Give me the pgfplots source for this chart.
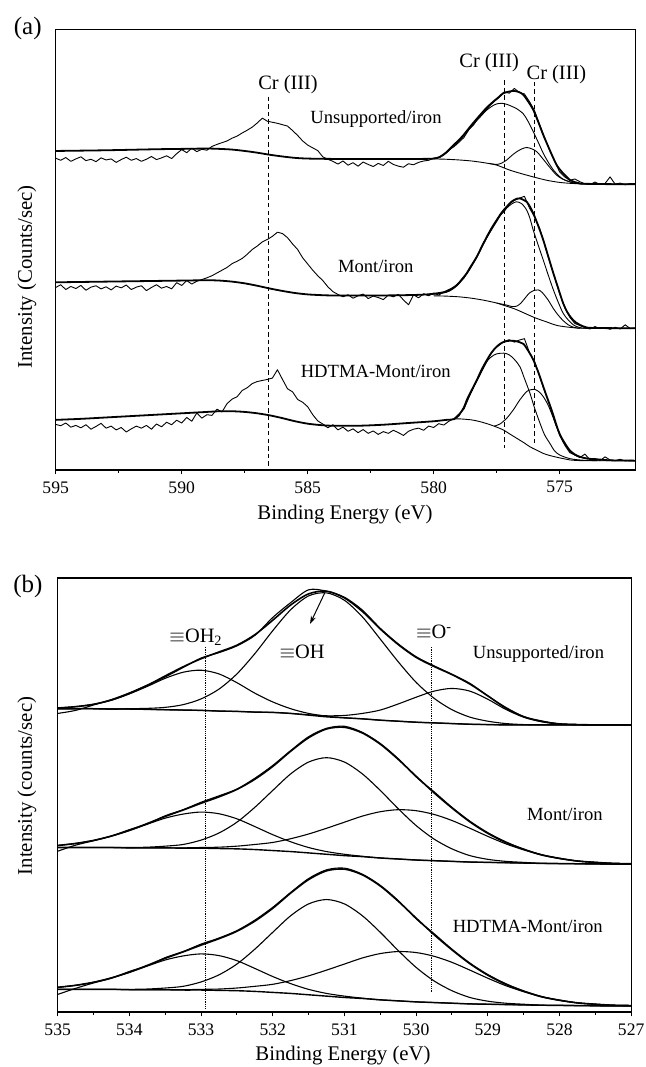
\documentclass[border=0pt]{standalone}
\usepackage{fontspec}
\setmainfont{Liberation Serif}
\usepackage{pgfplots}
\usepackage{pgfplotstable}
\pgfplotsset{compat=1.18}
\usetikzlibrary{arrows.meta}

\newcommand\tickfont{\fontsize{8.8}{10}\selectfont}
\newcommand\axlabfont{\fontsize{10.4}{12}\selectfont}
\newcommand\samplefont{\fontsize{9.3}{11}\selectfont}
\newcommand\peakfont{\fontsize{10.2}{12}\selectfont}
\newcommand\panelfont{\fontsize{12.5}{14}\selectfont}

\pgfplotsset{
  xps/.style={scale only axis, x dir=reverse, ytick=\empty, xtick pos=bottom,
    tick align=outside, major tick length=2.2pt, minor tick length=1.3pt,
    minor x tick num=1, axis line style={line width=0.6pt},
    every tick/.append style={line width=0.5pt, black},
    xticklabel style={font=\tickfont},
    /pgf/number format/assume math mode=true},
  raw/.style={black, line width=0.45pt, line join=round, mark=none},
  fit/.style={black, line width=0.9pt, smooth, mark=none},
  comp/.style={black, line width=0.45pt, smooth, mark=none},
  compb/.style={black, line width=0.55pt, smooth, mark=none},
  bk/.style={black, line width=0.7pt, smooth, mark=none},
}

% O 1s fits: background, OH2, OH, O- components, envelope, measured
\pgfplotstableread{
x bkg oht oh om env raw
535 898 900 898 898 900 884
534.75 898 904 898 898 904 893
534.5 898 911 898 898 911 909
534.25 897 923 897 897 924 925
534 897 942 898 897 943 945
533.75 896 964 899 896 967 968
533.5 895 988 902 895 995 992
533.25 894 1006 910 894 1022 1020
533 893 1012 927 893 1046 1048
532.75 891 1001 956 891 1066 1064
532.5 890 975 1001 890 1086 1084
532.25 888 944 1061 888 1117 1115
532 887 918 1129 887 1160 1168
531.75 884 898 1191 884 1205 1212
531.5 879 884 1232 880 1238 1250
531.25 874 876 1241 877 1246 1246
531 871 871 1219 878 1226 1228
530.75 868 868 1170 884 1186 1190
530.5 864 864 1104 894 1134 1136
530.25 861 861 1037 912 1088 1090
530 858 858 976 932 1050 1052
529.75 856 856 929 950 1023 1025
529.5 854 854 895 958 999 1000
529.25 852 852 873 950 971 973
529 851 851 861 926 936 936
528.75 850 850 854 896 900 902
528.5 850 850 851 873 874 875
528.25 850 850 850 860 860 862
528 850 850 850 853 853 853
527.75 850 850 850 851 851 851
527.5 850 850 850 850 850 850
527.25 850 850 850 850 850 850
527 850 850 850 850 850 850
}\oUns

\pgfplotstableread{
x bkg oht oh om env raw
535 487 493 487 487 493 476
534.75 487 499 487 487 499 494
534.5 487 508 487 487 508 507
534.25 487 521 487 487 521 521
534 486 537 487 486 538 540
533.75 486 556 488 486 558 557
533.5 486 574 491 486 579 581
533.25 485 586 496 486 598 599
533 485 592 509 487 618 621
532.75 484 587 530 488 637 640
532.5 483 572 562 491 659 660
532.25 481 549 606 496 689 692
532 478 525 656 502 727 730
531.75 475 504 705 513 772 774
531.5 471 487 740 527 812 815
531.25 467 475 753 544 838 840
531 463 467 740 562 843 846
530.75 460 461 705 580 826 828
530.5 456 456 656 593 793 795
530.25 453 453 602 599 748 750
530 450 450 552 596 698 696
529.75 448 448 512 585 649 652
529.5 446 446 483 567 604 606
529.25 444 444 463 544 563 565
529 443 443 452 520 529 531
528.75 442 442 446 498 502 504
528.5 441 441 443 480 482 482
528.25 440 440 440 465 465 466
528 439.5 439.5 439.5 454 455 455
527.75 439 439 439 447 447 447
527.5 438.5 438.5 438.5 443 443 443
527.25 438 438 438 440 440 440
527 438 438 438 439 439 439
}\oMont

\pgfplotstableread{
x bkg oht oh om env raw
535 67 73 67 67 73 52
534.75 67 79 67 67 79 70
534.5 67 88 67 67 88 86
534.25 67 101 67 67 101 100
534 66 117 67 66 118 120
533.75 66 136 68 66 138 137
533.5 66 154 71 66 159 161
533.25 65 166 76 66 178 179
533 65 172 89 67 198 201
532.75 64 167 110 68 217 219
532.5 63 152 142 71 239 241
532.25 61 129 186 76 269 272
532 58 105 236 82 307 310
531.75 55 84 285 93 352 354
531.5 51 67 320 107 392 395
531.25 47 55 333 124 418 421
531 43 47 320 142 423 426
530.75 40 41 285 160 406 408
530.5 36 36 236 173 373 375
530.25 33 33 182 179 328 330
530 30 30 132 176 278 276
529.75 28 28 92 165 229 232
529.5 26 26 63 147 184 186
529.25 24 24 43 124 143 145
529 23 23 32 100 109 111
528.75 22 22 26 78 82 84
528.5 21 21 23 60 62 62
528.25 20 20 20 45 45 46
528 19.5 19.5 19.5 34 35 35
527.75 19 19 19 27 27 27
527.5 18.5 18.5 18.5 23 23 23
527.25 18 18 18 20 20 20
527 18 18 18 19 19 19
}\oHDTMA

\begin{document}
\begin{tikzpicture}
\useasboundingbox (0,0) rectangle (323pt,533.5pt);

% ---------------- (a) Cr 2p ----------------
\begin{axis}[xps, at={(27.85pt,298.5pt)}, anchor=south west,
  width=289.8pt, height=220.35pt,
  xmin=572, xmax=595, ymin=0, ymax=1275,
  xtick={575,580,585,590,595}]

% Unsupported/iron
\addplot[raw] coordinates {(595.0,902)(594.8,896)(594.6,904)(594.4,893)(594.2,900)(594.0,906)(593.8,895)(593.6,899)(593.4,892)(593.2,903)(593.0,897)(592.8,900)(592.6,890)(592.4,898)(592.2,905)(592.0,896)(591.8,901)(591.6,893)(591.4,899)(591.2,907)(591.0,898)(590.8,903)(590.6,909)(590.4,901)(590.2,915)(590.0,927)(589.8,918)(589.6,931)(589.4,921)(589.2,928)(589.0,925)(588.8,936)(588.6,942)(588.4,947)(588.2,952)(588.0,960)(587.8,966)(587.6,975)(587.4,983)(587.2,992)(587.0,1004)(586.8,1018)(586.6,1009)(586.4,1006)(586.2,1003)(586.0,999)(585.8,995)(585.6,982)(585.4,968)(585.2,952)(585.0,940)(584.8,932)(584.6,924)(584.4,906)(584.2,899)(584.0,893)(583.8,885)(583.6,894)(583.4,882)(583.2,889)(583.0,879)(582.8,891)(582.6,884)(582.4,878)(582.2,887)(582.0,881)(581.8,893)(581.6,884)(581.4,879)(581.2,876)(581.0,886)(580.8,883)(580.6,890)(580.4,894)(580.2,896)(580.0,902)(579.8,905)(579.6,913)(579.4,926)(579.2,935)(579.0,948)(578.8,962)(578.6,985)(578.4,1000)(578.2,1022)(578.0,1035)(577.8,1052)(577.6,1066)(577.4,1078)(577.2,1094)(577.0,1090)(576.8,1104)(576.6,1092)(576.4,1088)(576.2,1066)(576.0,1040)(575.8,1000)(575.6,962)(575.4,925)(575.2,893)(575.0,862)(574.8,848)(574.6,838)(574.4,842)(574.2,834)(574.0,828)(573.8,826)(573.6,833)(573.4,826)(573.2,829)(573.0,848)(572.8,827)(572.6,830)(572.4,825)(572.2,829)(572.0,827)};
\addplot[fit] coordinates {(595,923)(593,925)(591,928)(590,929)(589,930)(588.5,929)(588,927)(587.5,923)(587,918)(586.5,912)(586,907)(585.5,903)(585,901)(584,900)(582,900)(580.5,900)(580.0,901)(579.75,906)(579.5,919)(579.25,937)(579.0,955)(578.83,968)(578.5,998)(578.16,1027)(577.9,1048)(577.63,1066)(577.4,1080)(577.24,1090)(577.0,1095)(576.84,1097)(576.6,1093)(576.44,1085)(576.25,1066)(576.05,1042)(575.85,1007)(575.65,969)(575.45,935)(575.25,902)(575.1,880)(574.92,863)(574.75,850)(574.59,839)(574.4,833)(574.19,829)(574.0,828)(573.0,827)(572.0,827)};
\addplot[comp] coordinates {(580.5,900)(580.0,901)(579.75,905)(579.5,917)(579.25,935)(579.0,952)(578.83,965)(578.5,994)(578.16,1021)(577.9,1041)(577.63,1055)(577.45,1060)(577.3,1061)(577.1,1058)(576.9,1052)(576.7,1045)(576.44,1030)(576.25,1008)(576.05,979)(575.85,948)(575.65,916)(575.45,890)(575.25,868)(575.05,852)(574.86,841)(574.66,835)(574.46,831)(574.2,828)(573.8,827)};
\addplot[comp] coordinates {(577.8,887)(577.5,884)(577.3,888)(577.1,897)(576.9,910)(576.7,921)(576.5,929)(576.31,933)(576.1,929)(575.91,921)(575.72,905)(575.52,887)(575.32,869)(575.12,853)(574.92,843)(574.72,837)(574.5,831)(574.33,829)(574.0,828)};
\addplot[comp] coordinates {(580.0,900)(579.5,899)(579.0,897)(578.5,894)(578.0,889)(577.5,882)(577.0,868)(576.5,857)(576.0,847)(575.5,838)(575.0,832)(574.5,829)(574.0,828)(573.0,827)(572.0,827)};

% Mont/iron
\addplot[raw] coordinates {(595.0,528)(594.8,536)(594.6,522)(594.4,531)(594.2,525)(594.0,534)(593.8,520)(593.6,529)(593.4,533)(593.2,524)(593.0,530)(592.8,521)(592.6,532)(592.4,527)(592.2,535)(592.0,522)(591.8,529)(591.6,533)(591.4,519)(591.2,528)(591.0,536)(590.8,526)(590.6,531)(590.4,524)(590.2,542)(590.0,534)(589.8,548)(589.6,538)(589.4,546)(589.2,551)(589.0,556)(588.8,562)(588.6,570)(588.4,578)(588.2,586)(588.0,597)(587.8,604)(587.6,612)(587.4,624)(587.2,638)(587.0,648)(586.8,660)(586.6,667)(586.4,676)(586.2,688)(586.0,684)(585.8,672)(585.6,654)(585.4,638)(585.2,614)(585.0,596)(584.8,578)(584.6,562)(584.4,548)(584.2,530)(584.0,516)(583.8,508)(583.6,501)(583.4,507)(583.2,497)(583.0,504)(582.8,509)(582.6,496)(582.4,503)(582.2,499)(582.0,493)(581.8,506)(581.6,501)(581.4,508)(581.2,492)(581.0,478)(580.8,507)(580.6,498)(580.4,510)(580.2,504)(580.0,512)(579.8,506)(579.6,515)(579.4,522)(579.2,527)(579.0,542)(578.8,555)(578.6,582)(578.4,603)(578.2,630)(578.0,660)(577.8,684)(577.6,712)(577.4,735)(577.2,748)(577.0,770)(576.8,780)(576.6,786)(576.4,792)(576.2,758)(576.0,733)(575.8,700)(575.6,652)(575.4,603)(575.2,556)(575.0,510)(574.8,470)(574.6,442)(574.4,424)(574.2,418)(574.0,412)(573.8,408)(573.6,415)(573.4,409)(573.2,412)(573.0,407)(572.8,413)(572.6,408)(572.4,420)(572.2,409)(572.0,411)};
\addplot[fit] coordinates {(595,543)(593,545)(591,547)(590,548)(589,549)(588.5,548)(588,545)(587.5,540)(587,533)(586.5,525)(586,518)(585.5,512)(585,508)(584.5,506)(584,505)(582,505)(581,506)(580.5,507)(580.27,508)(579.88,511)(579.48,517)(579.08,535)(578.9,550)(578.69,569)(578.5,592)(578.29,617)(578.1,645)(577.89,675)(577.7,700)(577.5,723)(577.3,745)(577.1,762)(576.9,777)(576.7,785)(576.58,786)(576.45,782)(576.31,776)(576.18,762)(576.05,743)(575.85,706)(575.65,665)(575.45,617)(575.25,569)(575.05,524)(574.86,482)(574.7,457)(574.53,439)(574.36,427)(574.2,420)(574.0,414)(573.7,411)(572.0,410)};
\addplot[comp] coordinates {(580.3,507)(579.5,514)(579.08,533)(578.69,567)(578.29,615)(577.89,672)(577.5,719)(577.3,742)(577.1,758)(576.9,770)(576.71,776)(576.5,770)(576.31,752)(576.18,728)(576.05,694)(575.85,650)(575.65,607)(575.45,563)(575.25,521)(575.05,484)(574.86,453)(574.66,434)(574.46,420)(574.25,413)(574.0,410)(573.5,410)};
\addplot[comp] coordinates {(577.5,483)(577.1,477)(576.9,473)(576.71,474)(576.55,482)(576.4,495)(576.2,512)(576.0,520)(575.85,521)(575.7,514)(575.46,492)(575.26,468)(575.06,448)(574.86,432)(574.66,420)(574.45,413)(574.2,410)};
\addplot[comp] coordinates {(580.0,504)(579.5,503)(579.0,501)(578.5,497)(578.0,491)(577.5,483)(577.2,476)(576.75,465)(576.0,441)(575.5,428)(575.1,418)(574.5,412)(574.0,410)(572.0,410)};

% HDTMA-Mont/iron
\addplot[raw] coordinates {(595.0,132)(594.8,128)(594.6,136)(594.4,124)(594.2,129)(594.0,122)(593.8,131)(593.6,118)(593.4,126)(593.2,135)(593.0,121)(592.8,127)(592.6,116)(592.4,123)(592.2,110)(592.0,119)(591.8,127)(591.6,121)(591.4,129)(591.2,118)(591.0,133)(590.8,125)(590.6,138)(590.4,131)(590.2,144)(590.0,136)(589.8,152)(589.6,141)(589.4,165)(589.2,150)(589.0,160)(588.8,158)(588.6,176)(588.4,168)(588.2,192)(588.0,205)(587.8,212)(587.6,230)(587.4,238)(587.2,250)(587.0,256)(586.8,259)(586.6,262)(586.4,266)(586.2,290)(586.0,262)(585.8,235)(585.6,226)(585.4,204)(585.2,196)(585.0,183)(584.8,160)(584.6,142)(584.4,133)(584.2,122)(584.0,131)(583.8,116)(583.6,124)(583.4,112)(583.2,119)(583.0,108)(582.8,117)(582.6,106)(582.4,113)(582.2,103)(582.0,111)(581.8,106)(581.6,115)(581.4,108)(581.2,100)(581.0,112)(580.8,118)(580.6,121)(580.4,115)(580.2,127)(580.0,123)(579.8,134)(579.6,130)(579.4,141)(579.2,148)(579.0,162)(578.8,176)(578.6,210)(578.4,242)(578.2,270)(578.0,300)(577.8,328)(577.6,350)(577.4,361)(577.2,372)(577.0,377)(576.8,370)(576.6,376)(576.4,380)(576.2,340)(576.0,315)(575.8,272)(575.6,228)(575.4,188)(575.2,140)(575.0,100)(574.8,72)(574.6,50)(574.4,44)(574.2,36)(574.0,46)(573.8,30)(573.6,33)(573.4,27)(573.2,38)(573.0,29)(572.8,27)(572.6,31)(572.4,26)(572.2,28)(572.0,27)};
\addplot[fit] coordinates {(595,145)(594,148)(593,152)(592,156)(591,160)(590,164)(589,168)(588.5,170)(588,170)(587.5,168)(587,164)(586.5,158)(586,150)(585.5,141)(585,134)(584.5,130)(584,128)(583,128)(582,131)(581,136)(580,141)(579.5,145)(579.2,147)(579.0,158)(578.96,163)(578.8,180)(578.69,202)(578.5,230)(578.29,260)(578.1,290)(577.89,318)(577.7,340)(577.5,357)(577.3,368)(577.1,373)(576.84,374)(576.6,370)(576.44,365)(576.25,345)(576.05,319)(575.85,283)(575.65,241)(575.5,210)(575.39,188)(575.25,158)(575.12,128)(575.0,104)(574.86,85)(574.72,69)(574.59,56)(574.4,45)(574.19,38)(573.9,33)(573.53,31)(573.0,28)(572.0,27)};
\addplot[comp] coordinates {(579.2,147)(578.96,162)(578.69,200)(578.29,258)(577.89,313)(577.7,328)(577.5,336)(577.21,338)(577.0,333)(576.8,320)(576.58,299)(576.4,265)(576.18,222)(576.0,180)(575.78,135)(575.6,102)(575.39,77)(575.2,55)(574.99,43)(574.7,35)(574.46,31)(574.0,28)(573.5,27)};
\addplot[comp] coordinates {(577.6,127)(577.37,133)(577.1,150)(576.84,174)(576.58,203)(576.31,227)(576.15,232)(575.98,233)(575.8,225)(575.65,212)(575.5,194)(575.39,176)(575.25,150)(575.12,125)(574.99,103)(574.86,82)(574.72,66)(574.59,53)(574.4,43)(574.19,37)(573.9,33)(573.5,30)};
\addplot[comp] coordinates {(579.2,147)(579.0,148)(578.5,145)(578.17,140)(577.8,132)(577.5,124)(577.24,116)(577.0,105)(576.71,92)(576.4,78)(576.18,67)(575.9,57)(575.65,48)(575.4,42)(575.12,37)(574.8,32)(574.59,29)(574.0,27)(572.0,27)};

% peak positions
\draw[black, line width=0.5pt, dash pattern=on 2.2pt off 1.6pt] (axis cs:586.54,1080) -- (axis cs:586.54,10);
\draw[black, line width=0.5pt, dash pattern=on 2.2pt off 1.6pt] (axis cs:577.21,1128) -- (axis cs:577.21,63);
\draw[black, line width=0.5pt, dash pattern=on 2.2pt off 1.6pt] (axis cs:575.98,1123) -- (axis cs:575.98,77);

\node[font=\peakfont] at (axis cs:585.78,1116) {Cr (III)};
\node[font=\peakfont] at (axis cs:577.80,1179) {Cr (III)};
\node[font=\peakfont] at (axis cs:575.13,1145) {Cr (III)};
\node[font=\samplefont] at (axis cs:582.29,1015) {Unsupported/iron};
\node[font=\samplefont] at (axis cs:582.30,590) {Mont/iron};
\node[font=\samplefont] at (axis cs:582.30,285) {HDTMA-Mont/iron};
\end{axis}

% ---------------- (b) O 1s ----------------
\begin{axis}[xps, at={(28.85pt,27.5pt)}, anchor=south west,
  width=286.75pt, height=217pt,
  xmin=527, xmax=535, ymin=0, ymax=1285,
  xtick={527,528,...,535}]

\addplot[bk] table[x=x,y=bkg] {\oUns};
\addplot[compb] table[x=x,y=oht] {\oUns};
\addplot[compb] table[x=x,y=oh] {\oUns};
\addplot[compb] table[x=x,y=om] {\oUns};
\addplot[compb] table[x=x,y=raw] {\oUns};
\addplot[fit, line width=0.8pt] table[x=x,y=env] {\oUns};

\addplot[bk] table[x=x,y=bkg] {\oMont};
\addplot[compb] table[x=x,y=oht] {\oMont};
\addplot[compb] table[x=x,y=oh] {\oMont};
\addplot[compb] table[x=x,y=om] {\oMont};
\addplot[compb] table[x=x,y=raw] {\oMont};
\addplot[fit, line width=0.8pt] table[x=x,y=env] {\oMont};

\addplot[bk] table[x=x,y=bkg] {\oHDTMA};
\addplot[compb] table[x=x,y=oht] {\oHDTMA};
\addplot[compb] table[x=x,y=oh] {\oHDTMA};
\addplot[compb] table[x=x,y=om] {\oHDTMA};
\addplot[compb] table[x=x,y=raw] {\oHDTMA};
\addplot[fit, line width=0.8pt] table[x=x,y=env] {\oHDTMA};

\draw[black, line width=0.4pt, dash pattern=on 0.6pt off 0.5pt] (axis cs:532.94,1080) -- (axis cs:532.94,10);
\draw[black, line width=0.4pt, dash pattern=on 0.6pt off 0.5pt] (axis cs:529.79,1080) -- (axis cs:529.79,60);
\draw[black, line width=0.5pt, -{Stealth[length=4pt,width=2.6pt]}] (axis cs:531.27,1243) -- (axis cs:531.48,1149);

\node[font=\peakfont] at (axis cs:533.07,1110) {$\equiv$OH\textsubscript{2}};
\node[font=\peakfont] at (axis cs:531.59,1066) {$\equiv$OH};
\node[font=\peakfont] at (axis cs:529.75,1125) {$\equiv$O\textsuperscript{-}};
\node[font=\samplefont, anchor=east] at (axis cs:527.28,1061) {Unsupported/iron};
\node[font=\samplefont, anchor=east] at (axis cs:527.30,585) {Mont/iron};
\node[font=\samplefont, anchor=east] at (axis cs:527.30,252) {HDTMA-Mont/iron};
\end{axis}

% panel letters and axis titles
\node[font=\panelfont] at (13.85pt,519.25pt) {(a)};
\node[font=\panelfont] at (14pt,240.25pt) {(b)};
\node[font=\axlabfont, rotate=90] at (13.4pt,395pt) {Intensity (Counts/sec)};
\node[font=\axlabfont, rotate=90] at (13.4pt,140.5pt) {Intensity (counts/sec)};
\node[font=\axlabfont] at (172.5pt,276pt) {Binding Energy (eV)};
\node[font=\axlabfont] at (171.5pt,5.5pt) {Binding Energy (eV)};
\end{tikzpicture}
\end{document}
